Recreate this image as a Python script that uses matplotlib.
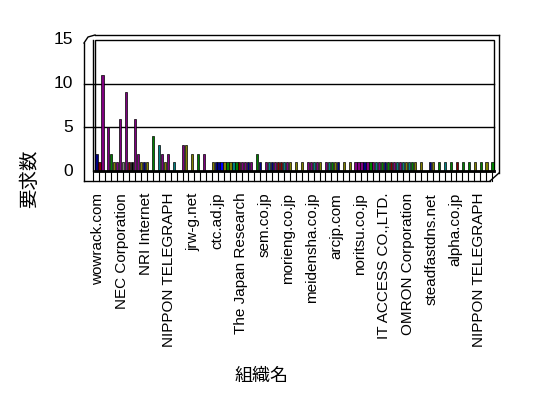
import matplotlib
matplotlib.use("Agg")
import matplotlib.pyplot as plt
from matplotlib.patches import Rectangle

# ---------------- data ----------------
org_labels = ["wowrack.com", "NEC Corporation", "NRI Internet", "NIPPON TELEGRAPH",
              "jrw-g.net", "ctc.ad.jp", "The Japan Research", "sem.co.jp",
              "morieng.co.jp", "meidensha.co.jp", "arcjp.com", "noritsu.co.jp",
              "IT ACCESS CO.,LTD.", "OMRON Corporation", "steadfastdns.net",
              "alpha.co.jp", "NIPPON TELEGRAPH"]

counts = [2, 1, 11, 0, 5, 2, 1, 1, 6, 1, 9, 1, 1, 6, 2, 1, 1, 1, 0, 4,
          0, 3, 2, 1, 2, 0, 1, 0, 0, 3, 3, 0, 2, 0, 2, 0, 2, 0, 0, 1,
          1, 1, 1, 1, 1, 1, 1, 1, 1, 1, 1, 1, 1, 0, 2, 1, 0, 1, 1, 1,
          1, 1, 1, 1, 1, 1, 0, 1, 0, 1, 0, 1, 1, 1, 1, 1, 0, 1, 1, 1,
          1, 1, 0, 1, 0, 1, 0, 1, 1, 1, 1, 1, 1, 1, 1, 1, 1, 1, 1, 1,
          1, 1, 1, 1, 1, 1, 1, 1, 0, 1, 0, 0, 1, 1, 0, 1, 0, 1, 0, 1,
          0, 1, 0, 1, 0, 1, 0, 1, 0, 1, 0, 1, 0, 1]

bar_colors = ["n", "m", "p", "p", "p", "g", "o", "p", "p", "y", "p", "m", "k", "p", "p", "o", "n", "o", "o", "g",
              "o", "t", "p", "o", "p", "o", "t", "o", "o", "p", "o", "o", "o", "o", "g", "o", "p", "o", "o", "o",
              "n", "n", "b", "o", "g", "o", "t", "g", "m", "p", "p", "n", "p", "o", "g", "n", "o", "p", "t", "n",
              "p", "m", "m", "t", "p", "o", "o", "o", "o", "o", "o", "p", "p", "t", "p", "o", "o", "p", "t", "g",
              "o", "n", "o", "o", "o", "o", "o", "p", "p", "p", "n", "p", "g", "p", "t", "p", "g", "n", "g", "m",
              "p", "t", "p", "t", "o", "t", "g", "o", "o", "o", "o", "o", "n", "o", "o", "g", "o", "t", "o", "g",
              "o", "m", "o", "g", "o", "g", "o", "o", "o", "g", "o", "o", "o", "g"]

palette = {"p": "#800080", "o": "#808000", "n": "#000080", "b": "#0000ff",
           "g": "#008000", "t": "#008080", "m": "#800000", "y": "#808080", "k": "#000000"}

y_ticks = [0, 5, 10, 15]
y_label = "要求数"
x_label = "組織名"

bars_per_org = 2
label_every = 4

# ---------------- figure ----------------
plt.rcParams['font.family'] = ['Liberation Sans', 'Noto Sans CJK JP', 'DejaVu Sans']
W, H = 548, 398
fig = plt.figure(figsize=(W / 100, H / 100), dpi=100)
fig.patch.set_facecolor("white")

ov = fig.add_axes([0, 0, 1, 1])
ov.set_xlim(0, W)
ov.set_ylim(H, 0)
ov.axis("off")

x0, x1 = 95, 494
ytop, y0px, yfloor = 40, 171, 181
unit = (y0px - ytop) / 15.0
ymin = -(yfloor - y0px) / unit
ax = fig.add_axes([x0 / W, 1 - yfloor / H, (x1 - x0) / W, (yfloor - ytop) / H])
n = len(counts)
ax.set_xlim(-0.5, n - 0.5)
ax.set_ylim(ymin, 15)
ax.axis("off")

ax.add_patch(Rectangle((-0.5, 0), n, 15, fill=False, ec="black", lw=1.0, clip_on=False))
for yv in y_ticks[1:-1]:
    ax.plot([-0.5, n - 0.5], [yv, yv], color="black", lw=1.0, clip_on=False)

xs = list(range(n))
ax.bar(xs, counts, width=0.72, color=[palette[c] for c in bar_colors],
       edgecolor="black", linewidth=0.5, zorder=3)

ax.plot([-0.5, n - 0.5], [0, 0], color="black", lw=2.0, zorder=4, clip_on=False)
n_org = (n + bars_per_org - 1) // bars_per_org
for k in range(n_org + 1):
    xb = k * bars_per_org - 0.5 - 0.6
    ax.plot([xb, xb], [0, ymin], color="black", lw=0.8, clip_on=False)

for i, lab in enumerate(org_labels):
    xc = i * label_every * bars_per_org + (bars_per_org - 1) / 2.0
    ax.text(xc, ymin - 1.35, lab, rotation=90, ha="center", va="top",
            fontsize=11, clip_on=False)

for yv in y_ticks:
    ov.text(73, y0px - yv * unit, str(yv), ha="right", va="center", fontsize=12.5)

ov.plot([84, 84], [43, yfloor], color="black", lw=1.0)
ov.plot([84, 88, 95], [43, 37, 35], color="black", lw=1.0)
ov.plot([95, 499], [35, 35], color="black", lw=1.0)
ov.plot([499, 499], [35, 173], color="black", lw=1.0)
ov.plot([499, 490], [173, yfloor], color="black", lw=1.0)
ov.plot([84, 490], [yfloor, yfloor], color="black", lw=1.0)
ov.plot([93, 93], [40, y0px], color="black", lw=1.0)
for yv in y_ticks[1:-1]:
    ov.plot([84, 95], [y0px - yv * unit, y0px - yv * unit], color="black", lw=1.0)

ov.text(30, 179, y_label, rotation=90, ha="center", va="center", fontsize=14)
ov.text(262, 376, x_label, ha="center", va="center", fontsize=13)

fig.savefig("out.png", dpi=100, facecolor="white")
